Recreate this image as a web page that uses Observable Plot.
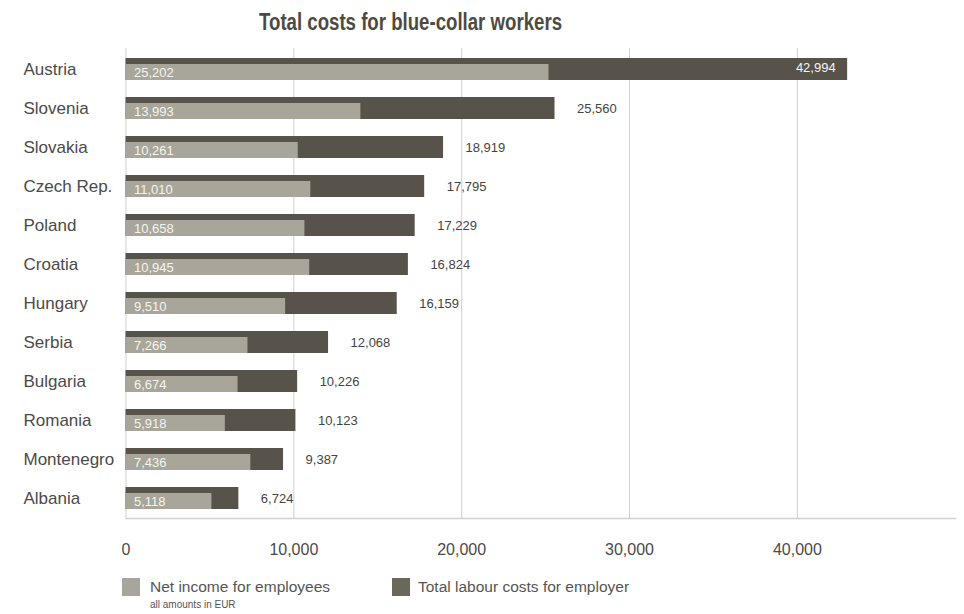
<!DOCTYPE html>
<html>
<head>
<meta charset="utf-8">
<script src="https://cdn.jsdelivr.net/npm/d3@7"></script>
<script src="https://cdn.jsdelivr.net/npm/@observablehq/plot@0.6"></script>
<style>
  body { margin: 0; background: #fff; font-family: "Liberation Sans", Arial, Helvetica, sans-serif; }
  #wrap { position: relative; width: 964px; height: 614px; overflow: hidden; }
  #chart { position: absolute; left: 0; top: 0; }
  #title { position: absolute; left: 259px; top: 8px; display: inline-block; white-space: nowrap;
           font-family: "Liberation Sans", Arial, sans-serif; font-weight: bold;
           font-size: 23px; color: #4d4a42; line-height: 28px; transform-origin: 0 50%; }
  .sw { position: absolute; width: 18px; height: 18px; }
  .lt { position: absolute; font-size: 15.5px; color: #555; line-height: 18px; white-space: nowrap; }
  .note { position: absolute; font-size: 10px; color: #555; white-space: nowrap; }
</style>
</head>
<body>
<div id="wrap">
  <div id="chart"></div>
  <span id="title">Total costs for blue-collar workers</span>
  <div class="sw" style="left:122px; top:578px; background:#a8a69a;"></div>
  <div class="lt" style="left:150px; top:578px;">Net income for employees</div>
  <div class="note" style="left:150px; top:599px;">all amounts in EUR</div>
  <div class="sw" style="left:392px; top:578px; background:#6b675b;"></div>
  <div class="lt" style="left:418px; top:578px;">Total labour costs for employer</div>
</div>
<script>
const countries = ["Austria","Slovenia","Slovakia","Czech Rep.","Poland","Croatia","Hungary","Serbia","Bulgaria","Romania","Montenegro","Albania"];
const netIncome = [25202,13993,10261,11010,10658,10945,9510,7266,6674,5918,7436,5118];
const totalCost = [42994,25560,18919,17795,17229,16824,16159,12068,10226,10123,9387,6724];
const xTicks = [0,10000,20000,30000,40000];

const data = countries.map((c,i) => ({country: c, net: netIncome[i], total: totalCost[i]}));
const inside = data.filter(d => d.total > 40000);
const outside = data.filter(d => d.total <= 40000);

const DARK = "#57534a", LIGHT = "#a8a69a";
const fmt = d3.format(",");

const chart = Plot.plot({
  width: 964,
  height: 570,
  marginTop: 48,
  marginBottom: 52,
  marginLeft: 125.5,
  marginRight: 9,
  style: {fontFamily: "Liberation Sans, Arial, Helvetica, sans-serif", background: "transparent"},
  x: {domain: [0, 49420], axis: null},
  y: {domain: countries, paddingInner: 0.4385, paddingOuter: 0.217, axis: null},
  marks: [
    Plot.gridX(xTicks, {stroke: "#d0d0d0", strokeOpacity: 1}),
    Plot.frame({anchor: "bottom", stroke: "#d0d0d0", strokeWidth: 1.5}),
    Plot.barX(data, {x: "total", y: "country", fill: DARK}),
    Plot.barX(data, {x: "net", y: "country", fill: LIGHT, insetTop: 6}),
    Plot.text(data, {x: 0, y: "country", text: d => fmt(d.net), dx: 8, dy: 3, textAnchor: "start", fill: "#f4f4ef", fontSize: 13}),
    Plot.text(outside, {x: "total", y: "country", text: d => fmt(d.total), dx: 22, textAnchor: "start", fill: "#444", fontSize: 13}),
    Plot.text(inside, {x: "total", y: "country", text: d => fmt(d.total), dx: -12, dy: -2, textAnchor: "end", fill: "#f4f4ef", fontSize: 13}),
    Plot.text(data, {y: "country", text: "country", frameAnchor: "left", dx: -102.5, textAnchor: "start", fill: "#4a4a4a", fontSize: 17}),
    Plot.axisX(xTicks, {tickSize: 0, tickPadding: 25, tickFormat: fmt, fontSize: 16, fill: "#4a4a4a", anchor: "bottom"})
  ]
});
document.getElementById("chart").appendChild(chart);

const t = document.getElementById("title");
const w = t.getBoundingClientRect().width;
if (w > 0) t.style.transform = "scaleX(" + (303 / w) + ")";
</script>
</body>
</html>
